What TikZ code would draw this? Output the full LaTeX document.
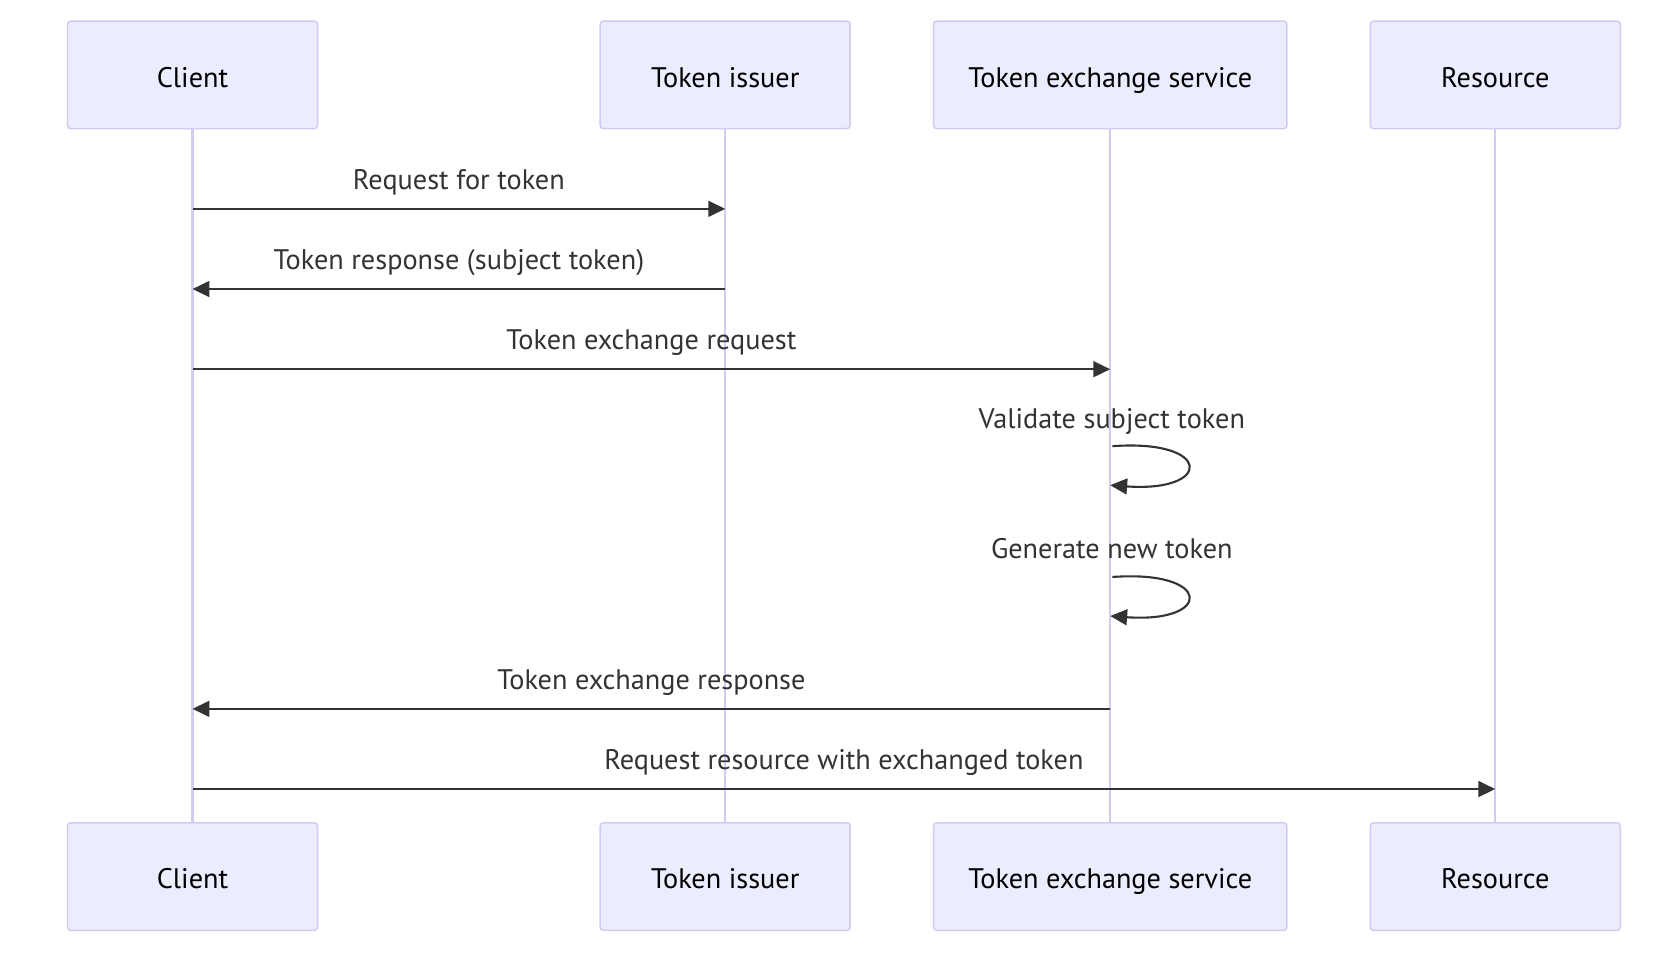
\documentclass[tikz,border=0pt]{standalone}
\usepackage{fontspec}
\setmainfont{PT Sans}
\usetikzlibrary{arrows.meta,positioning}
\definecolor{actorfill}{HTML}{ECECFF}
\definecolor{actorline}{HTML}{D3C9F2}
\definecolor{msgline}{HTML}{333333}

\begin{document}
\begin{tikzpicture}[x=0.5pt,y=-0.5pt]
\tikzset{actor/.style={draw=actorline,fill=actorfill,line width=0.7pt,rounded corners=1.5pt,
  minimum width=118.5pt,minimum height=51pt,font=\fontsize{13.4}{16}\selectfont,
  text height=13.7pt,text depth=2pt}}
\tikzset{wide/.style={minimum width=167.5pt}}
\tikzset{lifeline/.style={draw=actorline,line width=1pt}}
\tikzset{msg/.style={draw=msgline,line width=1pt,-{Triangle[length=8pt,width=7.5pt]}}}
\tikzset{msglabel/.style={font=\fontsize{13.4}{16}\selectfont,text=msgline,
  text height=1.6ex,text depth=0.3ex}}
\useasboundingbox (0,0) rectangle (1568,914);
% actors, top row
\node[actor] (client) at (182.5,71) {Client};
\node[actor] (issuer) at (687.5,71) {Token issuer};
\node[actor,wide] (tes) at (1052.5,71) {Token exchange service};
\node[actor] (resource) at (1417.5,71) {Resource};
% actors, bottom row
\node[actor] (client-b) at (182.5,831) {Client};
\node[actor] (issuer-b) at (687.5,831) {Token issuer};
\node[actor,wide] (tes-b) at (1052.5,831) {Token exchange service};
\node[actor] (resource-b) at (1417.5,831) {Resource};
% lifelines
\draw[lifeline] (client) -- (client-b);
\draw[lifeline] (issuer) -- (issuer-b);
\draw[lifeline] (tes) -- (tes-b);
\draw[lifeline] (resource) -- (resource-b);
% message ends
\coordinate (c1) at (client |- 0,198);
\coordinate (i1) at (issuer |- 0,198);
\coordinate (c2) at (client |- 0,274);
\coordinate (i2) at (issuer |- 0,274);
\coordinate (c3) at (client |- 0,350);
\coordinate (t3) at (tes |- 0,350);
\coordinate (t4a) at (tes |- 0,423);
\coordinate (t4b) at (tes |- 0,460);
\coordinate (t5a) at (tes |- 0,547);
\coordinate (t5b) at (tes |- 0,584);
\coordinate (c6) at (client |- 0,672);
\coordinate (t6) at (tes |- 0,672);
\coordinate (c7) at (client |- 0,748);
\coordinate (r7) at (resource |- 0,748);
% messages
\draw[msg] (c1) -- node[msglabel,midway,yshift=12.5pt] (l1) {Request for token} (i1);
\draw[msg] (i2) -- node[msglabel,midway,yshift=12.5pt] (l2) {Token response (subject token)} (c2);
\draw[msg] (c3) -- node[msglabel,midway,yshift=12.5pt] (l3) {Token exchange request} (t3);
\node[msglabel] (l4) at (1054,400) {Validate subject token};
\draw[msg] ([xshift=1pt]t4a) .. controls (1150,416) and (1150,467) .. (t4b);
\node[msglabel] (l5) at (1054,523) {Generate new token};
\draw[msg] ([xshift=1pt]t5a) .. controls (1150,540) and (1150,591) .. (t5b);
\draw[msg] (t6) -- node[msglabel,midway,yshift=12.5pt] (l6) {Token exchange response} (c6);
\draw[msg] (c7) -- node[msglabel,midway,yshift=12.5pt] (l7) {Request resource with exchanged token} (r7);
\end{tikzpicture}
\end{document}
